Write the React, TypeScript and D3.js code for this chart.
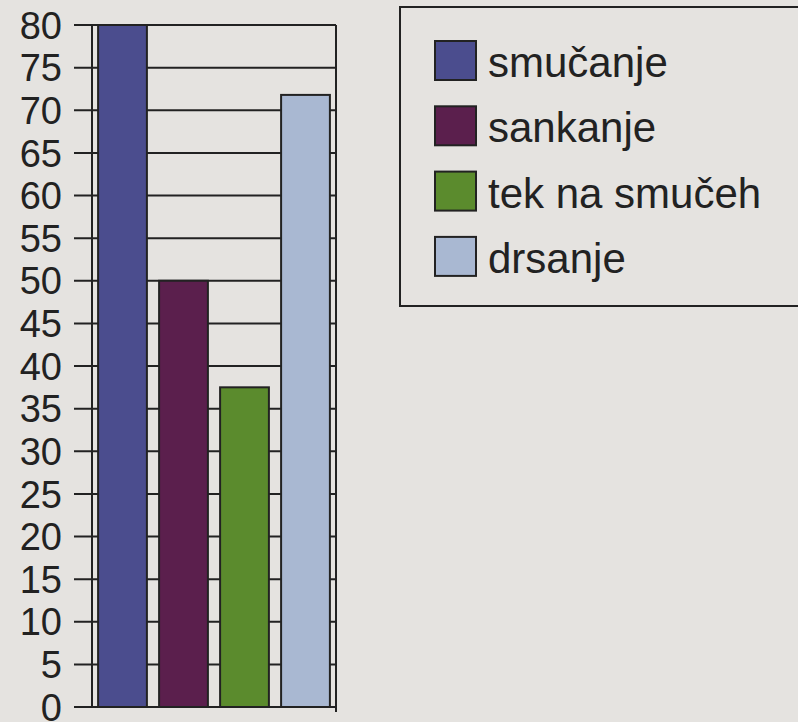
import { useEffect, useRef } from 'react';
import * as d3 from 'd3';

const categories = ['smučanje', 'sankanje', 'tek na smučeh', 'drsanje'];
const values = [80, 50, 37.5, 71.8];
const colors = ['#4b4d8e', '#5b1f4d', '#5b8b2d', '#a9b8d2'];
const yTicks = [0, 5, 10, 15, 20, 25, 30, 35, 40, 45, 50, 55, 60, 65, 70, 75, 80];

export default function App() {
  const svgRef = useRef<SVGSVGElement>(null);

  useEffect(() => {
    if (!svgRef.current) return;
    const width = 798;
    const height = 722;

    const svg = d3.select(svgRef.current);
    svg.selectAll('*').remove();
    svg.attr('width', width).attr('height', height);

    // paper background
    svg.append('rect')
      .attr('width', width)
      .attr('height', height)
      .attr('fill', '#e5e3e0');

    const left = 92;
    const right = 336;
    const top = 25;
    const bottom = 707;
    const ink = '#222';

    const x = d3.scaleBand<string>()
      .domain(categories)
      .range([left, right])
      .paddingInner(0.2)
      .paddingOuter(0.1);

    const y = d3.scaleLinear()
      .domain([0, 80])
      .range([bottom, top]);

    // gridlines (extend left as ticks)
    yTicks.forEach(t => {
      svg.append('line')
        .attr('x1', 74)
        .attr('x2', right)
        .attr('y1', y(t))
        .attr('y2', y(t))
        .attr('stroke', ink)
        .attr('stroke-width', 2);
    });

    // tick labels
    yTicks.forEach(t => {
      svg.append('text')
        .attr('x', 62)
        .attr('y', y(t))
        .attr('dy', '0.36em')
        .attr('text-anchor', 'end')
        .attr('font-family', 'Liberation Sans, Arial, sans-serif')
        .attr('font-size', '38px')
        .attr('fill', ink)
        .text(t);
    });

    // bars
    categories.forEach((c, i) => {
      svg.append('rect')
        .attr('x', x(c)!)
        .attr('y', y(values[i]))
        .attr('width', x.bandwidth())
        .attr('height', y(0) - y(values[i]))
        .attr('fill', colors[i])
        .attr('stroke', ink)
        .attr('stroke-width', 2);
    });

    // axis + right frame
    svg.append('line')
      .attr('x1', left).attr('x2', left)
      .attr('y1', top).attr('y2', bottom)
      .attr('stroke', ink).attr('stroke-width', 2);
    svg.append('line')
      .attr('x1', right).attr('x2', right)
      .attr('y1', top).attr('y2', bottom + 5)
      .attr('stroke', ink).attr('stroke-width', 2);

    // legend
    svg.append('rect')
      .attr('x', 400)
      .attr('y', 7)
      .attr('width', 420)
      .attr('height', 299)
      .attr('fill', 'none')
      .attr('stroke', ink)
      .attr('stroke-width', 2);

    categories.forEach((c, i) => {
      const g = svg.append('g')
        .attr('transform', `translate(435, ${41 + i * 65.3})`);
      g.append('rect')
        .attr('width', 41)
        .attr('height', 39)
        .attr('fill', colors[i])
        .attr('stroke', ink)
        .attr('stroke-width', 2);
      g.append('text')
        .attr('x', 53)
        .attr('y', 36)
        .attr('font-family', 'Liberation Sans, Arial, sans-serif')
        .attr('font-size', '42px')
        .attr('fill', ink)
        .text(c);
    });
  }, []);

  return (
    <svg ref={svgRef} style={{ position: 'absolute', left: 0, top: 0, display: 'block' }} />
  );
}
